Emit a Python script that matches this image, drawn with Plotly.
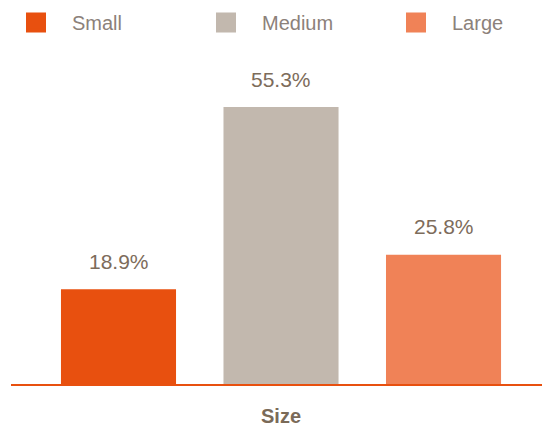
import plotly.graph_objects as go

categories = ["Small", "Medium", "Large"]
values = [18.9, 55.3, 25.8]
labels = ["18.9%", "55.3%", "25.8%"]
colors = ["#e8500f", "#c2b8ae", "#f08257"]
legend_widths = [113, 113, 60]

FONT = "Liberation Sans"

fig = go.Figure()
for i, (c, v, col) in enumerate(zip(categories, values, colors)):
    fig.add_trace(go.Bar(x=[i], y=[v], name=c, marker=dict(color=col, line=dict(width=0)),
                         width=0.708, hoverinfo="skip", showlegend=False))
    fig.add_trace(go.Scatter(x=[None], y=[None], mode="markers", name=c,
                             marker=dict(symbol="square", size=20, color=col,
                                         line=dict(width=4, color=col)),
                             showlegend=True, hoverinfo="skip", legendwidth=legend_widths[i]))
    fig.add_annotation(x=i, y=v, text=labels[i], showarrow=False, yshift=28,
                       font=dict(size=21, color="#7d6c5b", family=FONT))

fig.add_annotation(x=0.5085, y=-0.055, xref="paper", yref="paper", text="<b>Size</b>",
                   showarrow=False, yanchor="top",
                   font=dict(size=20, color="#7a6a58", family=FONT))

fig.update_layout(
    width=542, height=426,
    margin=dict(l=11, r=0, t=40, b=42, autoexpand=False),
    plot_bgcolor="white", paper_bgcolor="white",
    barmode="overlay",
    showlegend=True,
    legend=dict(orientation="h", x=0, xref="container", y=0.993, yref="container",
                xanchor="left", yanchor="top", itemwidth=62,
                font=dict(size=20, color="#8c817a", family=FONT)),
    xaxis=dict(range=[-0.6615, 2.606], showticklabels=False, showgrid=False, zeroline=False,
               showline=True, linecolor="#e8500f", linewidth=2, fixedrange=True),
    yaxis=dict(range=[0, 68.7], visible=False, showgrid=False, zeroline=False, fixedrange=True),
)

fig.write_html("out.html", post_script="document.body.style.margin='0';",
               config={"displayModeBar": False})
